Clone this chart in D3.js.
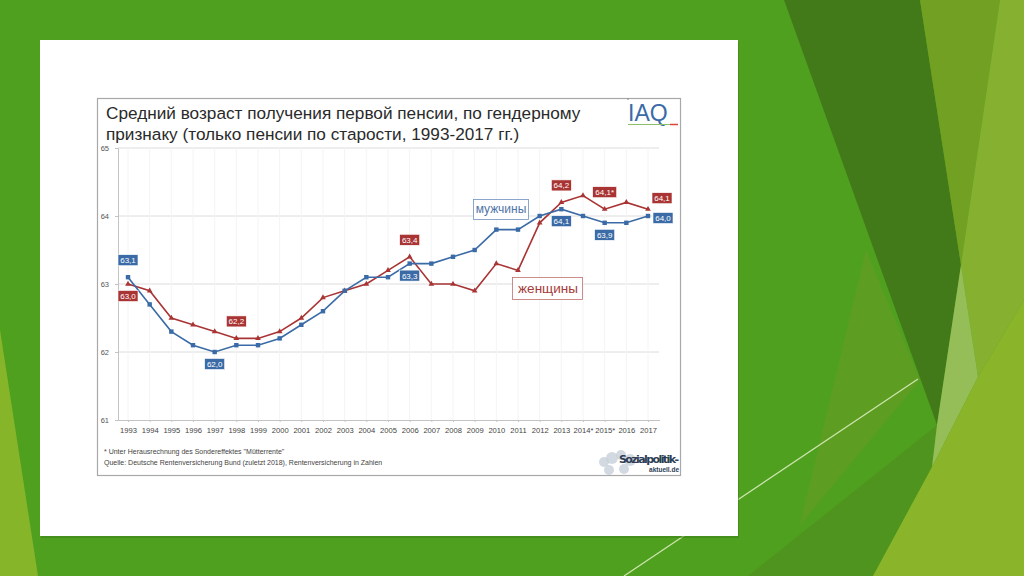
<!DOCTYPE html>
<html>
<head>
<meta charset="utf-8">
<script src="https://cdn.jsdelivr.net/npm/d3@7"></script>
<style>
  body { margin: 0; background: #50a020; }
  svg { display: block; font-family: "Liberation Sans", Arial, sans-serif; }
</style>
</head>
<body>
<svg id="chart" width="1024" height="576"></svg>
<script>
// data
const years = ['1993', '1994', '1995', '1996', '1997', '1998', '1999', '2000', '2001', '2002', '2003', '2004',
  '2005', '2006', '2007', '2008', '2009', '2010', '2011', '2012', '2013', '2014*', '2015*', '2016', '2017'];
const men = [63.1, 62.7, 62.3, 62.1, 62.0, 62.1, 62.1, 62.2, 62.4, 62.6, 62.9, 63.1,
  63.1, 63.3, 63.3, 63.4, 63.5, 63.8, 63.8, 64.0, 64.1, 64.0, 63.9, 63.9, 64.0];
const women = [63.0, 62.9, 62.5, 62.4, 62.3, 62.2, 62.2, 62.3, 62.5, 62.8, 62.9, 63.0,
  63.2, 63.4, 63.0, 63.0, 62.9, 63.3, 63.2, 63.9, 64.2, 64.3, 64.1, 64.2, 64.1];
const yTicks = [61, 62, 63, 64, 65];

// value labels: index into the series, where to put the box
const menLabels = [
  { i: 0, pos: 'above' }, { i: 4, pos: 'below' }, { i: 13, pos: 'below' },
  { i: 20, pos: 'below' }, { i: 22, pos: 'below' }, { i: 24, pos: 'right' }
];
const womenLabels = [
  { i: 0, pos: 'below' }, { i: 5, pos: 'above' }, { i: 13, pos: 'above' },
  { i: 20, pos: 'above' }, { i: 22, pos: 'above', star: true }, { i: 24, pos: 'rightUp' }
];

const blue = '#3a6ba6';
const red = '#a93434';

const svg = d3.select('#chart');

// slide background shapes
const shapes = [
  { c: '#86b52a', p: [[0, 330], [38, 576], [0, 576]] },
  { c: '#5c9d22', p: [[866, 250], [920, 380], [800, 525]] },
  { c: '#4e941e', p: [[937, 425], [932, 467], [873, 576], [748, 576]] },
  { c: '#427a1a', p: [[784, 0], [920, 0], [961, 265], [937, 425]] },
  { c: '#72a022', p: [[920, 0], [1000, 0], [961, 265]] },
  { c: '#86b030', p: [[1000, 0], [1024, 0], [1024, 300], [978, 377], [961, 265]] },
  { c: '#96be58', p: [[961, 265], [978, 377], [932, 467], [937, 425]] },
  { c: '#8ab52a', p: [[1024, 300], [1024, 576], [873, 576], [932, 467], [978, 377]] }
];
svg.selectAll('polygon.bg')
  .data(shapes)
  .enter()
  .append('polygon')
  .attr('points', d => d.p.map(q => q.join(',')).join(' '))
  .attr('fill', d => d.c);

svg.append('line')
  .attr('x1', 918).attr('y1', 379).attr('x2', 624).attr('y2', 576)
  .attr('stroke', '#cfe6b0').attr('stroke-width', 1.2);

// white slide panel
svg.append('rect')
  .attr('x', 41).attr('y', 42).attr('width', 698).attr('height', 496)
  .attr('fill', '#3e7d19').attr('opacity', 0.5);
svg.append('rect')
  .attr('x', 40).attr('y', 40).attr('width', 698).attr('height', 496)
  .attr('fill', '#fff');

// picture frame
svg.append('rect')
  .attr('x', 97.5).attr('y', 98.5).attr('width', 583).attr('height', 377)
  .attr('fill', '#fff').attr('stroke', '#a8a8a8').attr('stroke-width', 1.2);

// title
svg.append('text')
  .attr('x', 106).attr('y', 119)
  .attr('font-size', 17.2).attr('fill', '#2a2a2a')
  .text('Средний возраст получения первой пенсии, по гендерному');
svg.append('text')
  .attr('x', 106).attr('y', 140)
  .attr('font-size', 17.2).attr('fill', '#2a2a2a')
  .text('признаку (только пенсии по старости, 1993-2017 гг.)');

// IAQ logo
svg.append('text')
  .attr('x', 628).attr('y', 121)
  .attr('font-size', 23).attr('fill', '#3b6aa8')
  .text('IAQ');
svg.append('line').attr('x1', 628).attr('x2', 670).attr('y1', 124.5).attr('y2', 124.5)
  .attr('stroke', '#8bbf6a').attr('stroke-width', 1);
svg.append('line').attr('x1', 670).attr('x2', 678).attr('y1', 124.5).attr('y2', 124.5)
  .attr('stroke', '#d9463a').attr('stroke-width', 1.5);
svg.append('line').attr('x1', 628).attr('x2', 628).attr('y1', 98).attr('y2', 100)
  .attr('stroke', '#888');

// scales
const x = d3.scalePoint()
  .domain(years)
  .range([128, 648]);

const y = d3.scaleLinear()
  .domain([61, 65])
  .range([420, 148]);

// gridlines
svg.append('g')
  .selectAll('line')
  .data(yTicks.filter(t => t > 61))
  .enter()
  .append('line')
  .attr('x1', 118).attr('x2', 659)
  .attr('y1', d => y(d)).attr('y2', d => y(d))
  .attr('stroke', '#dcdcdc').attr('stroke-width', 1);

// faint vertical grid
svg.append('g')
  .selectAll('line')
  .data(years)
  .enter()
  .append('line')
  .attr('x1', d => x(d)).attr('x2', d => x(d))
  .attr('y1', 148).attr('y2', 420)
  .attr('stroke', '#f4f4f4').attr('stroke-width', 1);

// axes
const yAxis = svg.append('g')
  .attr('transform', 'translate(118,0)')
  .call(d3.axisLeft(y).tickValues(yTicks).tickFormat(d3.format('d')).tickSize(3).tickPadding(6));
yAxis.select('.domain').attr('stroke', '#c4c4c4');
yAxis.selectAll('line').attr('stroke', '#c4c4c4');
yAxis.selectAll('text').attr('font-size', 7.5).attr('fill', '#555')
  .attr('font-family', '"Liberation Sans", Arial, sans-serif');

const xAxis = svg.append('g')
  .attr('transform', 'translate(0,420)')
  .call(d3.axisBottom(x).tickSize(2).tickPadding(6));
xAxis.select('.domain').attr('d', 'M118,0.5H660').attr('stroke', '#c4c4c4');
xAxis.selectAll('line').attr('stroke', '#c4c4c4');
xAxis.selectAll('text').attr('font-size', 7.6).attr('fill', '#444')
  .attr('font-family', '"Liberation Sans", Arial, sans-serif');

// lines
const line = d3.line()
  .x((d, i) => x(years[i]))
  .y(d => y(d));

svg.append('path')
  .datum(women)
  .attr('d', line)
  .attr('fill', 'none')
  .attr('stroke', red)
  .attr('stroke-width', 1.6);

svg.append('path')
  .datum(men)
  .attr('d', line)
  .attr('fill', 'none')
  .attr('stroke', blue)
  .attr('stroke-width', 1.6);

// markers
svg.append('g')
  .selectAll('path')
  .data(women)
  .enter()
  .append('path')
  .attr('transform', (d, i) => `translate(${x(years[i])},${y(d)})`)
  .attr('d', d3.symbol(d3.symbolTriangle, 14))
  .attr('fill', red);

svg.append('g')
  .selectAll('rect')
  .data(men)
  .enter()
  .append('rect')
  .attr('x', (d, i) => x(years[i]) - 2.2)
  .attr('y', d => y(d) - 2.2)
  .attr('width', 4.4).attr('height', 4.4)
  .attr('fill', blue);

// value labels
const fmt = v => d3.format('.1f')(v).replace('.', ',');

function drawLabels(labels, values, color) {
  const g = svg.append('g')
    .selectAll('g')
    .data(labels)
    .enter()
    .append('g')
    .attr('transform', d => {
      const px = x(years[d.i]);
      const py = y(values[d.i]);
      if (d.pos === 'above') return `translate(${px},${py - 17})`;
      if (d.pos === 'below') return `translate(${px},${py + 12})`;
      if (d.pos === 'right') return `translate(${px + 15},${py + 2})`;
      return `translate(${px + 14},${py - 11})`;
    });
  g.append('rect')
    .attr('x', d => d.star ? -12 : -10)
    .attr('y', -5.5)
    .attr('width', d => d.star ? 24 : 20)
    .attr('height', 11)
    .attr('fill', color)
    .attr('stroke', '#fff')
    .attr('stroke-width', 0.6);
  g.append('text')
    .attr('text-anchor', 'middle')
    .attr('dy', 3)
    .attr('font-size', 8)
    .attr('fill', '#fff')
    .text(d => fmt(values[d.i]) + (d.star ? '*' : ''));
}
drawLabels(menLabels, men, blue);
drawLabels(womenLabels, women, red);

// series names
svg.append('rect')
  .attr('x', 473.5).attr('y', 199.5).attr('width', 55).attr('height', 20)
  .attr('fill', '#fff').attr('stroke', '#6f8fbf').attr('stroke-width', 0.8);
svg.append('text')
  .attr('x', 501).attr('y', 213).attr('text-anchor', 'middle')
  .attr('font-size', 12).attr('fill', '#4f73a8')
  .text('мужчины');

svg.append('rect')
  .attr('x', 512.5).attr('y', 277.5).attr('width', 70).attr('height', 22)
  .attr('fill', '#fff').attr('stroke', '#c07070').attr('stroke-width', 0.8);
svg.append('text')
  .attr('x', 548).attr('y', 293).attr('text-anchor', 'middle')
  .attr('font-size', 13.5).attr('fill', '#a53a3a')
  .text('женщины');

// footnotes
svg.append('text')
  .attr('x', 104).attr('y', 454)
  .attr('font-size', 7).attr('fill', '#444')
  .text('* Unter Herausrechnung des Sondereffektes "Mütterrente"');
svg.append('text')
  .attr('x', 104).attr('y', 465)
  .attr('font-size', 7).attr('fill', '#444')
  .text('Quelle: Deutsche Rentenversicherung Bund (zuletzt 2018), Rentenversicherung in Zahlen');

// Sozialpolitik logo
const logo = svg.append('g');
[[604, 462, 5], [612, 458, 6], [621, 455, 5], [630, 460, 6], [609, 470, 5], [624, 469, 5]].forEach(c => {
  logo.append('circle').attr('cx', c[0]).attr('cy', c[1]).attr('r', c[2])
    .attr('fill', '#c7cfda').attr('opacity', 0.8);
});
logo.append('text')
  .attr('x', 619).attr('y', 463)
  .attr('font-size', 11).attr('font-weight', 'bold').attr('fill', '#2d3e55')
  .attr('font-family', '"DejaVu Sans", sans-serif')
  .attr('textLength', 60)
  .text('Sozialpolitik-');
logo.append('text')
  .attr('x', 679).attr('y', 472).attr('text-anchor', 'end')
  .attr('font-size', 6.5).attr('font-weight', 'bold').attr('fill', '#2d3e55')
  .text('aktuell.de');
</script>
</body>
</html>
